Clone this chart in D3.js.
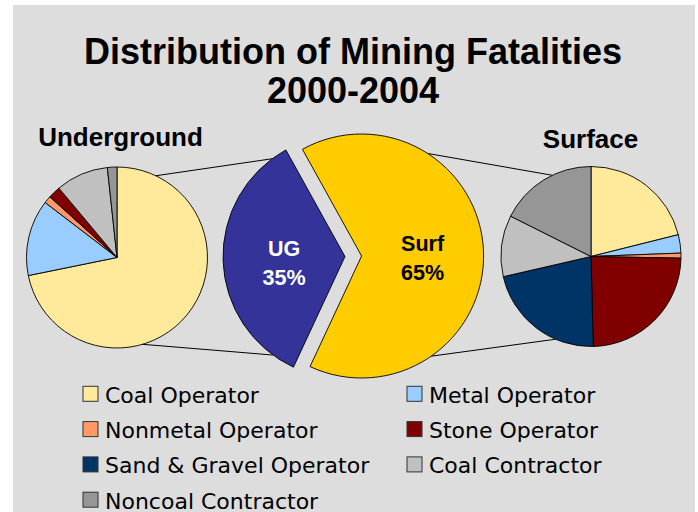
<!DOCTYPE html>
<html>
<head>
<meta charset="utf-8">
<script src="https://cdn.jsdelivr.net/npm/d3@7"></script>
<style>
    body { margin: 0; background: #fff; }
    svg { display: block; }
</style>
</head>
<body>
<div id="container"></div>
<script>
const categories = ["Coal Operator", "Metal Operator", "Nonmetal Operator", "Stone Operator",
    "Sand & Gravel Operator", "Coal Contractor", "Noncoal Contractor"];
const colors = ["#FFEA9C", "#99CCFF", "#FF9966", "#800000", "#003366", "#C0C0C0", "#969696"];

// percent of fatalities within each group
const ugValues = [71.8, 13.6, 1.3, 2.2, 0, 9.4, 1.7];
const surfValues = [21.1, 3.3, 0.9, 24.3, 21.8, 11.0, 17.6];

const mainLabels = ["UG", "Surf"];
const mainValues = [35, 65];
const mainColors = ["#333399", "#FFCC00"];

const width = 698;
const height = 512;
const rad = Math.PI / 180;

const svg = d3.create("svg")
    .attr("width", width)
    .attr("height", height)
    .attr("viewBox", [0, 0, width, height]);

svg.append("rect")
    .attr("x", 13)
    .attr("y", 5)
    .attr("width", 682)
    .attr("height", height - 5)
    .attr("fill", "#DDDDDD");

// title
svg.append("g")
    .attr("font-family", "'Liberation Sans', Arial, sans-serif")
    .attr("font-weight", "bold")
    .attr("font-size", 36)
    .attr("text-anchor", "middle")
    .selectAll("text")
    .data(["Distribution of Mining Fatalities", "2000-2004"])
    .join("text")
    .attr("x", 353)
    .attr("y", (d, i) => 64 + i * 39)
    .text(d => d);

const ug = {cx: 117, cy: 257.5, r: 90.5};
const surf = {cx: 591, cy: 256.5, r: 90};
const main = {cx: 353.3, cy: 256.3, r: 122, explode: 8.3};

const pieGen = d3.pie().sort(null).value(d => d);

const mainArcs = d3.pie().sort(null)
    .startAngle(205 * rad)
    .endAngle(565 * rad)(mainValues);

// offset of each exploded slice
const offsets = mainArcs.map(a => {
    const m = (a.startAngle + a.endAngle) / 2;
    return [main.cx + main.explode * Math.sin(m), main.cy - main.explode * Math.cos(m)];
});

function pt(cx, cy, r, deg) {
    return [cx + r * Math.sin(deg * rad), cy - r * Math.cos(deg * rad)];
}

// connector lines
const connectors = [
    [pt(ug.cx, ug.cy, ug.r, 25.4), pt(offsets[0][0], offsets[0][1], main.r, 323.3)],
    [pt(ug.cx, ug.cy, ug.r, 163.6), pt(offsets[0][0], offsets[0][1], main.r, 216.2)],
    [pt(offsets[1][0], offsets[1][1], main.r, 32.8), pt(surf.cx, surf.cy, surf.r, 334.5)],
    [pt(offsets[1][0], offsets[1][1], main.r, 145.2), pt(surf.cx, surf.cy, surf.r, 203.2)]
];

svg.append("g")
    .selectAll("line")
    .data(connectors)
    .join("line")
    .attr("x1", d => d[0][0])
    .attr("y1", d => d[0][1])
    .attr("x2", d => d[1][0])
    .attr("y2", d => d[1][1])
    .attr("stroke", "#000")
    .attr("stroke-width", 1);

function drawSmallPie(values, p) {
    const arc = d3.arc().innerRadius(0).outerRadius(p.r);
    svg.append("g")
        .attr("transform", `translate(${p.cx},${p.cy})`)
        .selectAll("path")
        .data(pieGen(values).filter(d => d.value > 0))
        .join("path")
        .attr("d", arc)
        .attr("fill", d => colors[d.index])
        .attr("stroke", "#000")
        .attr("stroke-width", 0.9)
        .attr("stroke-linejoin", "round");
}

drawSmallPie(ugValues, ug);
drawSmallPie(surfValues, surf);

// main exploded pie
const mainArc = d3.arc().innerRadius(0).outerRadius(main.r);
const mainG = svg.append("g")
    .selectAll("g")
    .data(mainArcs)
    .join("g")
    .attr("transform", (d, i) => `translate(${offsets[i][0]},${offsets[i][1]})`);

mainG.append("path")
    .attr("d", mainArc)
    .attr("fill", (d, i) => mainColors[i])
    .attr("stroke", "#000")
    .attr("stroke-width", 0.9);

mainG.append("text")
    .attr("font-family", "'Liberation Sans', Arial, sans-serif")
    .attr("font-weight", "bold")
    .attr("font-size", 21.5)
    .attr("text-anchor", "middle")
    .attr("fill", (d, i) => i === 0 ? "#fff" : "#000")
    .attr("transform", d => `translate(${mainArc.centroid(d)})`)
    .call(t => t.append("tspan").attr("x", 0).attr("y", -3).text((d, i) => mainLabels[i]))
    .call(t => t.append("tspan").attr("x", 0).attr("y", 26).text(d => d.value + "%"));

// sub pie titles
svg.append("g")
    .attr("font-family", "'Liberation Sans', Arial, sans-serif")
    .attr("font-weight", "bold")
    .attr("font-size", 26)
    .attr("text-anchor", "middle")
    .selectAll("text")
    .data([["Underground", 120.5, 146], ["Surface", 590.5, 148]])
    .join("text")
    .attr("x", d => d[1])
    .attr("y", d => d[2])
    .text(d => d[0]);

// legend
const legend = svg.append("g")
    .attr("font-family", "'DejaVu Sans', sans-serif")
    .attr("font-size", 22)
    .selectAll("g")
    .data(categories)
    .join("g")
    .attr("transform", (d, i) => `translate(${i % 2 === 0 ? 83 : 407},${394.3 + Math.floor(i / 2) * 35.3})`);

legend.append("rect")
    .attr("x", 0)
    .attr("y", -8)
    .attr("width", 15)
    .attr("height", 15)
    .attr("fill", (d, i) => colors[i])
    .attr("stroke", "#333")
    .attr("stroke-width", 1);

legend.append("text")
    .attr("x", 22)
    .attr("y", 8.3)
    .text(d => d);

document.getElementById("container").append(svg.node());
</script>
</body>
</html>
